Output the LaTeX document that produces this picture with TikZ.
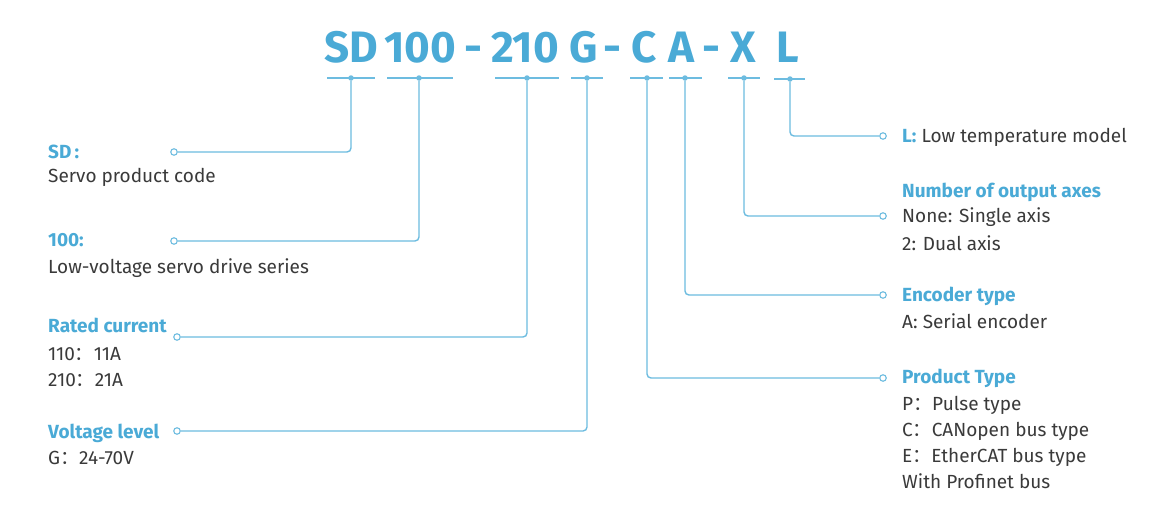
\documentclass[tikz,border=0pt]{standalone}
\usepackage{fontspec}
\setmainfont{Fira Sans}
\newfontfamily\cjk{Noto Sans CJK SC}
\definecolor{hb}{HTML}{4AAAD6}
\definecolor{ln}{HTML}{6DBCE0}
\definecolor{tx}{HTML}{3A3A3A}
\newcommand{\fc}{{\cjk ：}}
\begin{document}
\begin{tikzpicture}[x=1pt,y=-1pt,
  title/.style={font=\fontsize{44}{44}\selectfont\bfseries, text=hb, anchor=base, inner sep=0},
  head/.style={font=\fontsize{19}{22}\selectfont\bfseries, text=hb, anchor=base west, inner sep=0},
  body/.style={font=\fontsize{19}{22}\selectfont, text=tx, anchor=base west, inner sep=0},
  term/.style={circle, draw=ln, fill=white, line width=1.1pt, minimum size=6.5pt, inner sep=0},
  dotm/.style={circle, fill=ln, minimum size=5.5pt, inner sep=0},
  conn/.style={draw=ln, line width=1.4pt, rounded corners=4pt},
  bar/.style={draw=ln, line width=1.3pt}]
\fill[white] (0,0) rectangle (1170,530);
\useasboundingbox (0,0) rectangle (1170,530);
% title
\node[title] (tSD) at (351,62) {SD};
\node[title] (t100) at (420,62) {100};
\node[title] (h1) at (473,62) {-};
\node[title] (t210) at (525,62) {210};
\node[title] (tG) at (584,62) {G};
\node[title] (h2) at (612,62) {-};
\node[title] (tC) at (644,62) {C};
\node[title] (tA) at (681,62) {A};
\node[title] (h3) at (711,62) {-};
\node[title] (tX) at (743,62) {X};
\node[title] (tL) at (788,62) {L};
% underline bars
\draw[bar] (327,78) -- (375,78);
\draw[bar] (387,78) -- (453,78);
\draw[bar] (495,78) -- (559,78);
\draw[bar] (571,78) -- (603,78);
\draw[bar] (630,78) -- (663,78);
\draw[bar] (669,78) -- (702,78);
\draw[bar] (728,78) -- (760,78);
\draw[bar] (774,79) -- (805,79);
% dots
\node[dotm] (dSD) at (351,78) {};
\node[dotm] (d100) at (419,78) {};
\node[dotm] (d210) at (527,78) {};
\node[dotm] (dG) at (587,78) {};
\node[dotm] (dC) at (647,78) {};
\node[dotm] (dA) at (685,78) {};
\node[dotm] (dX) at (744,78) {};
\node[dotm] (dL) at (790,79) {};
% terminals
\node[term] (cSD) at (174,152) {};
\node[term] (c100) at (174,241) {};
\node[term] (c210) at (177,337) {};
\node[term] (cG) at (177,431) {};
\node[term] (cL) at (883,136) {};
\node[term] (cX) at (883,216) {};
\node[term] (cA) at (883,295) {};
\node[term] (cC) at (883,378) {};
% connectors
\draw[conn] (dSD.south) |- (cSD.east);
\draw[conn] (d100.south) |- (c100.east);
\draw[conn] (d210.south) |- (c210.east);
\draw[conn] (dG.south) |- (cG.east);
\draw[conn] (dL.south) |- (cL.west);
\draw[conn] (dX.south) |- (cX.west);
\draw[conn] (dA.south) |- (cA.west);
\draw[conn] (dC.south) |- (cC.west);
% left texts
\node[head] (hSD) at (48,158) {SD\,:};
\node[body] (bSD) at (48,182) {Servo product code};
\node[head] (h100) at (48,246) {100:};
\node[body] (b100) at (48,273) {Low-voltage servo drive series};
\node[head] (h210) at (48,332) {Rated current};
\node[body] (b210a) at (48,360) {110\fc 11A};
\node[body] (b210b) at (48,386) {210\fc 21A};
\node[head] (hG) at (48,438) {Voltage level};
\node[body] (bG) at (48,464) {G\fc 24-70V};
% right texts
\node[body] (hL) at (902,142) {\textcolor{hb}{\bfseries L:} Low temperature model};
\node[head] (hX) at (902,197) {Number of output axes};
\node[body] (bX1) at (902,222) {None: Single axis};
\node[body] (bX2) at (902,250) {2: Dual axis};
\node[head] (hA) at (902,301) {Encoder type};
\node[body] (bA) at (902,328) {A: Serial encoder};
\node[head] (hC) at (902,383) {Product Type};
\node[body] (bC1) at (902,410) {P\fc Pulse type};
\node[body] (bC2) at (902,436) {C\fc CANopen bus type};
\node[body] (bC3) at (902,462) {E\fc EtherCAT bus type};
\node[body] (bC4) at (902,488) {With Profinet bus};
\end{tikzpicture}
\end{document}
